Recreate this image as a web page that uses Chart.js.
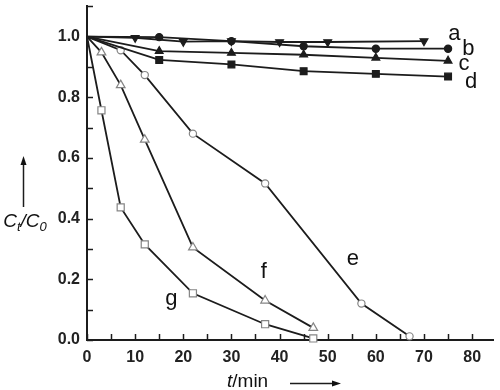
<!DOCTYPE html>
<html>
<head>
<meta charset="utf-8">
<script src="https://cdn.jsdelivr.net/npm/chart.js@4"></script>
<style>
  body { margin: 0; background: #fff; }
  canvas { display: block; }
</style>
</head>
<body>
<canvas id="chart" width="500" height="390"></canvas>
<script>
// time points (min) for each curve
const tA = [0, 10, 20, 30, 40, 50, 70];
const tB = [0, 15, 30, 45, 60, 75];
const tC = [0, 15, 30, 45, 60, 75];
const tD = [0, 15, 30, 45, 60, 75];
const tE = [0, 7, 12, 22, 37, 57, 67];
const tF = [0, 3, 7, 12, 22, 37, 47];
const tG = [0, 3, 7, 12, 22, 37, 47];

// Ct/C0 values
const a = [1.0, 0.996, 0.983, 0.985, 0.982, 0.982, 0.985];
const b = [1.0, 0.998, 0.985, 0.968, 0.96, 0.96];
const c = [1.0, 0.952, 0.946, 0.94, 0.93, 0.92];
const d = [1.0, 0.923, 0.908, 0.886, 0.877, 0.868];
const e = [1.0, 0.955, 0.873, 0.68, 0.516, 0.12, 0.012];
const f = [1.0, 0.948, 0.84, 0.66, 0.305, 0.13, 0.04];
const g = [1.0, 0.757, 0.437, 0.315, 0.154, 0.052, 0.005];

// curve letters and where they sit (data units)
const letters = ['a', 'b', 'c', 'd', 'e', 'f', 'g'];
const letterX = [76.3, 79.2, 78.3, 79.8, 55.2, 36.7, 17.5];
const letterY = [1.007, 0.96, 0.911, 0.852, 0.266, 0.224, 0.135];

const lineColor = '#1c1c1c';
const openColor = '#858585';

function pts(xs, ys) {
    return xs.map((x, i) => ({ x: x, y: ys[i] }));
}

function series(xs, ys, style, filled, size, rotation) {
    return {
        data: pts(xs, ys),
        borderColor: lineColor,
        borderWidth: 1.8,
        pointStyle: style,
        pointRotation: rotation || 0,
        pointRadius: ctx => ctx.dataIndex === 0 ? 0 : size,
        pointBackgroundColor: filled ? lineColor : '#fff',
        pointBorderColor: filled ? lineColor : openColor,
        pointBorderWidth: 1.2,
        tension: 0,
        clip: false
    };
}

const extras = {
    id: 'extras',
    afterDraw(chart) {
        const ctx = chart.ctx;
        const xs = chart.scales.x, ys = chart.scales.y;
        const area = chart.chartArea;
        ctx.save();
        ctx.strokeStyle = lineColor;
        ctx.lineWidth = 1.5;
        // inward ticks
        ys.ticks.forEach(t => {
            const py = Math.round(ys.getPixelForValue(t.value)) + 0.5;
            ctx.beginPath();
            ctx.moveTo(area.left, py);
            ctx.lineTo(area.left + 6, py);
            ctx.stroke();
        });
        xs.ticks.forEach(t => {
            const px = Math.round(xs.getPixelForValue(t.value)) + 0.5;
            ctx.beginPath();
            ctx.moveTo(px, area.bottom);
            ctx.lineTo(px, area.bottom - 6);
            ctx.stroke();
        });

        // curve letters
        ctx.fillStyle = '#111';
        ctx.font = '22px "Liberation Sans", Arial, sans-serif';
        ctx.textAlign = 'center';
        ctx.textBaseline = 'middle';
        letters.forEach((l, i) => {
            ctx.fillText(l, xs.getPixelForValue(letterX[i]), ys.getPixelForValue(letterY[i]));
        });

        // y title: Ct/C0
        ctx.textBaseline = 'alphabetic';
        ctx.textAlign = 'left';
        const big = 'italic 19px "Liberation Sans", Arial, sans-serif';
        const small = 'italic 13px "Liberation Sans", Arial, sans-serif';
        const parts = [['C', big, 0], ['t', small, 4], ['/C', big, 0], ['0', small, 4]];
        let w = 0;
        parts.forEach(p => { ctx.font = p[1]; w += ctx.measureText(p[0]).width; });
        let x0 = 25 - w / 2;
        parts.forEach(p => {
            ctx.font = p[1];
            ctx.fillText(p[0], x0, 227 + p[2]);
            x0 += ctx.measureText(p[0]).width;
        });

        // up arrow
        ctx.lineWidth = 1.5;
        ctx.beginPath();
        ctx.moveTo(23.5, 207);
        ctx.lineTo(23.5, 162);
        ctx.stroke();
        ctx.beginPath();
        ctx.moveTo(23.5, 156);
        ctx.lineTo(20.5, 165);
        ctx.lineTo(26.5, 165);
        ctx.closePath();
        ctx.fill();

        // x title: t/min
        ctx.font = 'italic 19px "Liberation Sans", Arial, sans-serif';
        ctx.fillText('t', 227, 387);
        const tw = ctx.measureText('t').width;
        ctx.font = '19px "Liberation Sans", Arial, sans-serif';
        ctx.fillText('/min', 227 + tw, 387);

        // right arrow
        ctx.beginPath();
        ctx.moveTo(290, 383.5);
        ctx.lineTo(334, 383.5);
        ctx.stroke();
        ctx.beginPath();
        ctx.moveTo(341, 383.5);
        ctx.lineTo(332, 380.5);
        ctx.lineTo(332, 386.5);
        ctx.closePath();
        ctx.fill();
        ctx.restore();
    }
};

const tickFont = { family: '"Liberation Sans", Arial, sans-serif', size: 16, weight: 'bold' };

new Chart(document.getElementById('chart'), {
    type: 'line',
    data: {
        datasets: [
            series(tA, a, 'triangle', true, 4.5, 180),
            series(tB, b, 'circle', true, 3.6),
            series(tC, c, 'triangle', true, 4.5),
            series(tD, d, 'rect', true, 4.8),
            series(tE, e, 'circle', false, 3.6),
            series(tF, f, 'triangle', false, 5),
            series(tG, g, 'rect', false, 5)
        ]
    },
    options: {
        responsive: false,
        animation: false,
        layout: { padding: { top: 6, right: 6, left: 0, bottom: 0 } },
        plugins: { legend: { display: false }, tooltip: { enabled: false } },
        scales: {
            x: {
                type: 'linear',
                min: 0,
                max: 84.5,
                afterFit: s => { s.height = 50; s.paddingLeft = 0; s.paddingRight = 0; },
                grid: { drawOnChartArea: false, drawTicks: false },
                border: { color: lineColor, width: 2 },
                ticks: {
                    stepSize: 5,
                    includeBounds: false,
                    autoSkip: false,
                    maxRotation: 0,
                    padding: 8,
                    color: '#222',
                    font: tickFont,
                    callback: v => v % 10 === 0 ? String(v) : ''
                }
            },
            y: {
                min: 0,
                max: 1.1,
                afterFit: s => { s.width = 87; s.paddingTop = 0; s.paddingBottom = 0; },
                grid: { drawOnChartArea: false, drawTicks: false },
                border: { color: lineColor, width: 2 },
                ticks: {
                    stepSize: 0.1,
                    autoSkip: false,
                    padding: 7,
                    color: '#222',
                    font: tickFont,
                    callback: v => {
                        const k = Math.round(v * 10);
                        return (k % 2 === 0 && k <= 10) ? (k / 10).toFixed(1) : '';
                    }
                }
            }
        }
    },
    plugins: [extras]
});
</script>
</body>
</html>
